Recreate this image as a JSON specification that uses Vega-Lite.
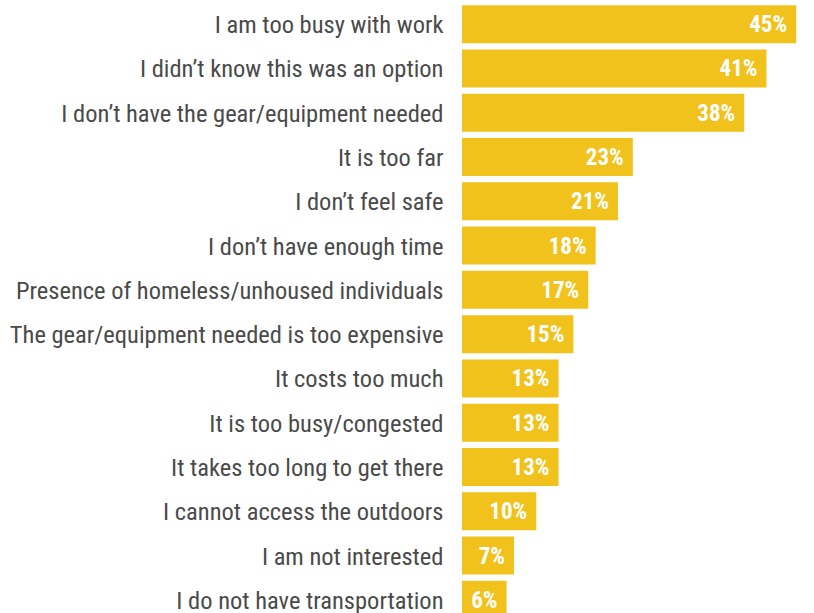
{
  "$schema": "https://vega.github.io/schema/vega-lite/v6.json",
  "autosize": "none",
  "padding": {"left": 462, "top": 2, "right": 0, "bottom": 0},
  "width": 352,
  "height": 620,
  "background": "white",
  "config": {"view": {"stroke": null}},
  "data": {
    "values": [
      {"reason": "I am too busy with work", "pct": 0.45},
      {"reason": "I didn’t know this was an option", "pct": 0.41},
      {"reason": "I don’t have the gear/equipment needed", "pct": 0.38},
      {"reason": "It is too far", "pct": 0.23},
      {"reason": "I don’t feel safe", "pct": 0.21},
      {"reason": "I don’t have enough time", "pct": 0.18},
      {"reason": "Presence of homeless/unhoused individuals", "pct": 0.17},
      {"reason": "The gear/equipment needed is too expensive", "pct": 0.15},
      {"reason": "It costs too much", "pct": 0.13},
      {"reason": "It is too busy/congested", "pct": 0.13},
      {"reason": "It takes too long to get there", "pct": 0.13},
      {"reason": "I cannot access the outdoors", "pct": 0.10},
      {"reason": "I am not interested", "pct": 0.07},
      {"reason": "I do not have transportation", "pct": 0.06}
    ]
  },
  "encoding": {
    "y": {
      "field": "reason",
      "type": "nominal",
      "sort": null,
      "scale": {"paddingInner": 0.142, "paddingOuter": 0.071},
      "axis": {
        "title": null,
        "ticks": false,
        "domain": false,
        "labelFontSize": 24.5,
        "labelColor": "#4a4a4a",
        "labelPadding": 19,
        "labelOffset": 2,
        "labelLimit": 470,
        "labelFont": "Roboto Condensed, Liberation Sans Narrow, DejaVu Sans Condensed, Roboto, sans-serif"
      }
    },
    "x": {
      "field": "pct",
      "type": "quantitative",
      "scale": {"domain": [0, 0.474], "nice": false},
      "axis": null
    }
  },
  "layer": [
    {"mark": {"type": "bar", "color": "#F1C21B"}},
    {
      "mark": {
        "type": "text",
        "align": "right",
        "baseline": "middle",
        "dx": -9,
        "dy": 1,
        "color": "white",
        "fontWeight": "bold",
        "fontSize": 23,
        "font": "Roboto Condensed, Liberation Sans Narrow, DejaVu Sans Condensed, Roboto, sans-serif"
      },
      "encoding": {"text": {"field": "pct", "type": "quantitative", "format": ".0%"}}
    }
  ]
}
